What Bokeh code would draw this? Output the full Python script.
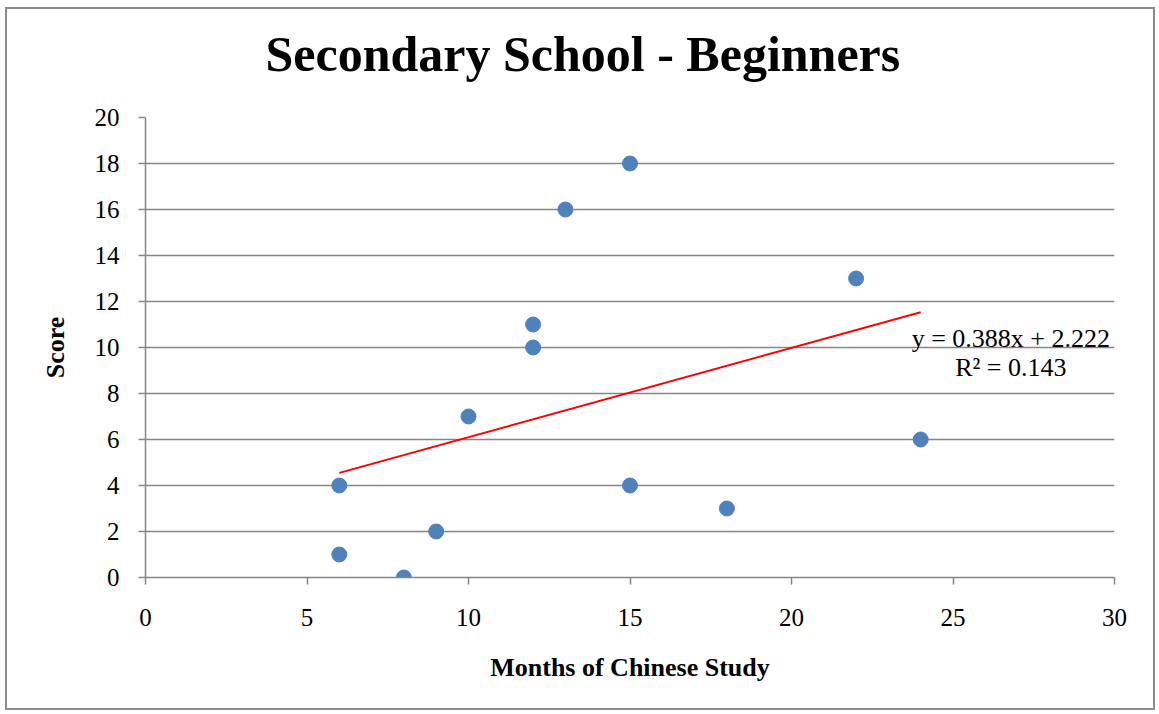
from bokeh.plotting import figure
from bokeh.models import Range1d, FixedTicker, Label, Title
from bokeh.embed import file_html
from bokeh.resources import INLINE

# ---- data ----
months = [6, 6, 8, 9, 10, 12, 12, 13, 15, 15, 18, 22, 24]
scores = [4, 1, 0, 2, 7, 11, 10, 16, 18, 4, 3, 13, 6]
slope = 0.388
intercept = 2.222
r_squared = 0.143
x_ticks = [0, 5, 10, 15, 20, 25, 30]
y_ticks = [0, 2, 4, 6, 8, 10, 12, 14, 16, 18, 20]
title_text = "Secondary School - Beginners"
x_label = "Months of Chinese Study"
y_label = "Score"

FONT = "Liberation Serif"
GRID = "#868686"

p = figure(width=1150, height=703, output_backend="svg", toolbar_location=None,
           x_range=Range1d(0, 30), y_range=Range1d(0, 20), title_location=None,
           min_border_left=138, min_border_right=43, min_border_top=108, min_border_bottom=135)
p.styles = {"border": "2px solid #8c8c8c", "margin": "7px 0 0 5px"}
p.outline_line_color = None
p.background_fill_color = "white"
p.border_fill_color = "white"

# title: a blank spacer title next to the frame, then the real title above it
spacer = Title(text=" ", text_font_size="10px", standoff=23)
main_title = Title(text=title_text, align="left", offset=120, standoff=0,
                   text_font=FONT, text_font_style="bold", text_font_size="50px",
                   text_color="black")
p.add_layout(spacer, "above")
p.add_layout(main_title, "above")

# grid
p.xgrid.grid_line_color = None
p.ygrid.grid_line_color = GRID
p.ygrid.grid_line_width = 1.5
p.ygrid.ticker = FixedTicker(ticks=y_ticks)

# axes
for ax in (p.xaxis[0], p.yaxis[0]):
    ax.axis_line_color = GRID
    ax.axis_line_width = 1.5
    ax.major_tick_line_color = GRID
    ax.major_tick_line_width = 1.5
    ax.major_tick_out = 7
    ax.major_tick_in = 0
    ax.minor_tick_line_color = None
    ax.major_label_text_font = FONT
    ax.major_label_text_font_size = "25px"
    ax.major_label_text_color = "black"
    ax.axis_label_text_font = FONT
    ax.axis_label_text_font_style = "bold"
    ax.axis_label_text_font_size = "26px"
    ax.axis_label_text_color = "black"

p.xaxis.ticker = FixedTicker(ticks=x_ticks)
p.yaxis.ticker = FixedTicker(ticks=y_ticks)
p.xaxis.axis_label = x_label
p.yaxis.axis_label = y_label
p.xaxis.major_label_standoff = 24
p.yaxis.major_label_standoff = 19
p.xaxis.axis_label_standoff = 24
p.yaxis.axis_label_standoff = 22

# trend line
tx = [min(months), max(months)]
ty = [slope * v + intercept for v in tx]
p.line(tx, ty, line_color="red", line_width=2)

# points
p.scatter(months, scores, size=15, fill_color="#4F81BD", line_color="#4F81BD")

# equation labels
eq1 = Label(x=26.79, y=10.38, text=f"y = {slope}x + {intercept}", text_align="center",
            text_baseline="middle", text_font=FONT, text_font_size="26px", text_color="black")
eq2 = Label(x=26.79, y=9.12, text=f"R\u00b2 = {r_squared}", text_align="center",
            text_baseline="middle", text_font=FONT, text_font_size="26px", text_color="black")
p.add_layout(eq1)
p.add_layout(eq2)

open("out.html", "w").write(file_html(p, INLINE))
